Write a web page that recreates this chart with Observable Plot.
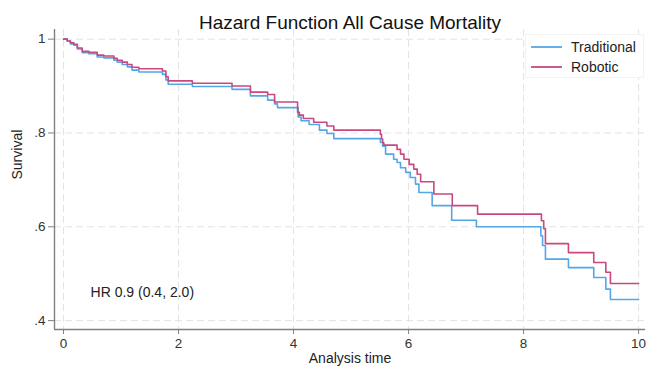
<!DOCTYPE html>
<html>
<head>
<meta charset="utf-8">
<script src="https://cdn.jsdelivr.net/npm/d3@7"></script>
<script src="https://cdn.jsdelivr.net/npm/@observablehq/plot@0.6"></script>
<style>
  html, body { margin: 0; padding: 0; background: #fff; }
  #wrap { position: relative; width: 647px; height: 376px; font-family: "Liberation Sans", Arial, sans-serif; }
  #legend { position: absolute; left: 525px; top: 34px; width: 119px; height: 44px; background: #fff; border: 1px solid #f3f3f3; box-sizing: border-box; }
  .item { position: absolute; left: 5px; height: 20px; display: flex; align-items: center; font-size: 14px; color: #222; }
  .item svg { margin-right: 9px; }
</style>
</head>
<body>
<div id="wrap"></div>
<script>
const title = "Hazard Function All Cause Mortality";
const xLabel = "Analysis time";
const yLabel = "Survival";
const annotation = "HR 0.9 (0.4, 2.0)";
const annotationPos = [0.47, 0.46];

const xTicks = [0, 2, 4, 6, 8, 10];
const yTicks = [0.4, 0.6, 0.8, 1];
const yTickLabels = [".4", ".6", ".8", "1"];
const xDomain = [-0.157, 10.12];
const yDomain = [0.381, 1.0206];

const seriesNames = ["Traditional", "Robotic"];
const seriesColors = ["#55a6e6", "#c9487f"];

const tradTime = [0, 0.064, 0.12, 0.18, 0.24, 0.325, 0.44, 0.586, 0.70, 0.875, 0.934, 1.02, 1.11, 1.19, 1.31, 1.72, 1.78, 1.82, 2.24, 2.93, 3.25, 3.55, 3.67, 3.72, 4.08, 4.13, 4.27, 4.45, 4.58, 4.70, 5.51, 5.55, 5.60, 5.74, 5.80, 5.86, 5.95, 6.03, 6.12, 6.18, 6.41, 6.75, 7.18, 8.30, 8.33, 8.38, 8.78, 9.22, 9.43, 9.51, 10.0];
const tradSurv = [1, 0.996, 0.990, 0.987, 0.979, 0.971, 0.969, 0.962, 0.960, 0.955, 0.951, 0.946, 0.941, 0.934, 0.930, 0.925, 0.913, 0.904, 0.899, 0.893, 0.879, 0.870, 0.862, 0.854, 0.834, 0.826, 0.818, 0.806, 0.799, 0.788, 0.780, 0.772, 0.755, 0.744, 0.737, 0.726, 0.716, 0.705, 0.691, 0.673, 0.645, 0.614, 0.600, 0.581, 0.560, 0.531, 0.513, 0.492, 0.467, 0.445, 0.445];

const robTime = [0, 0.064, 0.12, 0.18, 0.24, 0.325, 0.44, 0.586, 0.70, 0.875, 0.934, 1.02, 1.11, 1.19, 1.31, 1.72, 1.78, 1.82, 2.24, 2.93, 3.25, 3.55, 3.67, 4.07, 4.10, 4.17, 4.35, 4.58, 4.70, 5.51, 5.53, 5.55, 5.57, 5.80, 5.86, 5.92, 6.01, 6.09, 6.15, 6.21, 6.44, 6.76, 7.20, 8.31, 8.35, 8.38, 8.78, 9.22, 9.43, 9.51, 10.0];
const robSurv = [1, 0.996, 0.992, 0.989, 0.981, 0.974, 0.972, 0.966, 0.964, 0.959, 0.955, 0.951, 0.946, 0.940, 0.937, 0.932, 0.920, 0.911, 0.906, 0.900, 0.887, 0.882, 0.866, 0.844, 0.838, 0.831, 0.823, 0.815, 0.806, 0.797, 0.787, 0.779, 0.774, 0.765, 0.755, 0.744, 0.733, 0.723, 0.712, 0.696, 0.670, 0.645, 0.627, 0.613, 0.596, 0.564, 0.545, 0.524, 0.503, 0.479, 0.479];

const data = [
  ...tradTime.map((t, i) => ({ t, s: tradSurv[i], g: seriesNames[0] })),
  ...robTime.map((t, i) => ({ t, s: robSurv[i], g: seriesNames[1] }))
];

const axisColor = "#808080";
const gridColor = "#e3e3e3";

const chart = Plot.plot({
  width: 647,
  height: 376,
  marginTop: 29,
  marginRight: 2,
  marginBottom: 47,
  marginLeft: 54,
  style: { fontFamily: "'Liberation Sans', Arial, sans-serif", fontSize: "13.5px", background: "#fff", color: "#222" },
  x: { domain: xDomain },
  y: { domain: yDomain },
  color: { domain: seriesNames, range: seriesColors },
  marks: [
    Plot.gridX(xTicks, { stroke: gridColor, strokeOpacity: 1, strokeWidth: 1, strokeDasharray: "7,4" }),
    Plot.gridY(yTicks, { stroke: gridColor, strokeOpacity: 1, strokeWidth: 1, strokeDasharray: "7,4" }),
    Plot.ruleX([xDomain[0]], { stroke: axisColor, strokeWidth: 1.4 }),
    Plot.ruleY([yDomain[0]], { stroke: axisColor, strokeWidth: 1.4 }),
    Plot.axisX(xTicks, { tickSize: 5, tickPadding: 4, stroke: axisColor, fill: "#333", fontSize: 13.5, label: null }),
    Plot.axisY(yTicks, { tickSize: 6, tickPadding: 3, stroke: axisColor, fill: "#333", fontSize: 13.5, label: null,
      tickFormat: d => yTickLabels[yTicks.indexOf(d)] }),
    Plot.line(data, { x: "t", y: "s", z: "g", stroke: "g", curve: "step-after", strokeWidth: 1.6 }),
    Plot.text([annotation], { x: annotationPos[0], y: annotationPos[1], textAnchor: "start", fontSize: 14, fill: "#222" }),
    Plot.text([title], { frameAnchor: "top", dy: -14, fontSize: 19, fill: "#111" }),
    Plot.text([xLabel], { frameAnchor: "bottom", dy: 33, fontSize: 14, fill: "#222" }),
    Plot.text([yLabel], { frameAnchor: "left", dx: -37, rotate: -90, fontSize: 14, fill: "#222" })
  ]
});

const wrap = document.getElementById("wrap");
wrap.appendChild(chart);

const legend = document.createElement("div");
legend.id = "legend";
seriesNames.forEach((name, i) => {
  const item = document.createElement("div");
  item.className = "item";
  item.style.top = (2 + i * 19.5) + "px";
  item.innerHTML = `<svg width="31" height="4"><line x1="0" y1="2" x2="31" y2="2" stroke="${seriesColors[i]}" stroke-width="1.8"/></svg><span>${name}</span>`;
  legend.appendChild(item);
});
wrap.appendChild(legend);
</script>
</body>
</html>
